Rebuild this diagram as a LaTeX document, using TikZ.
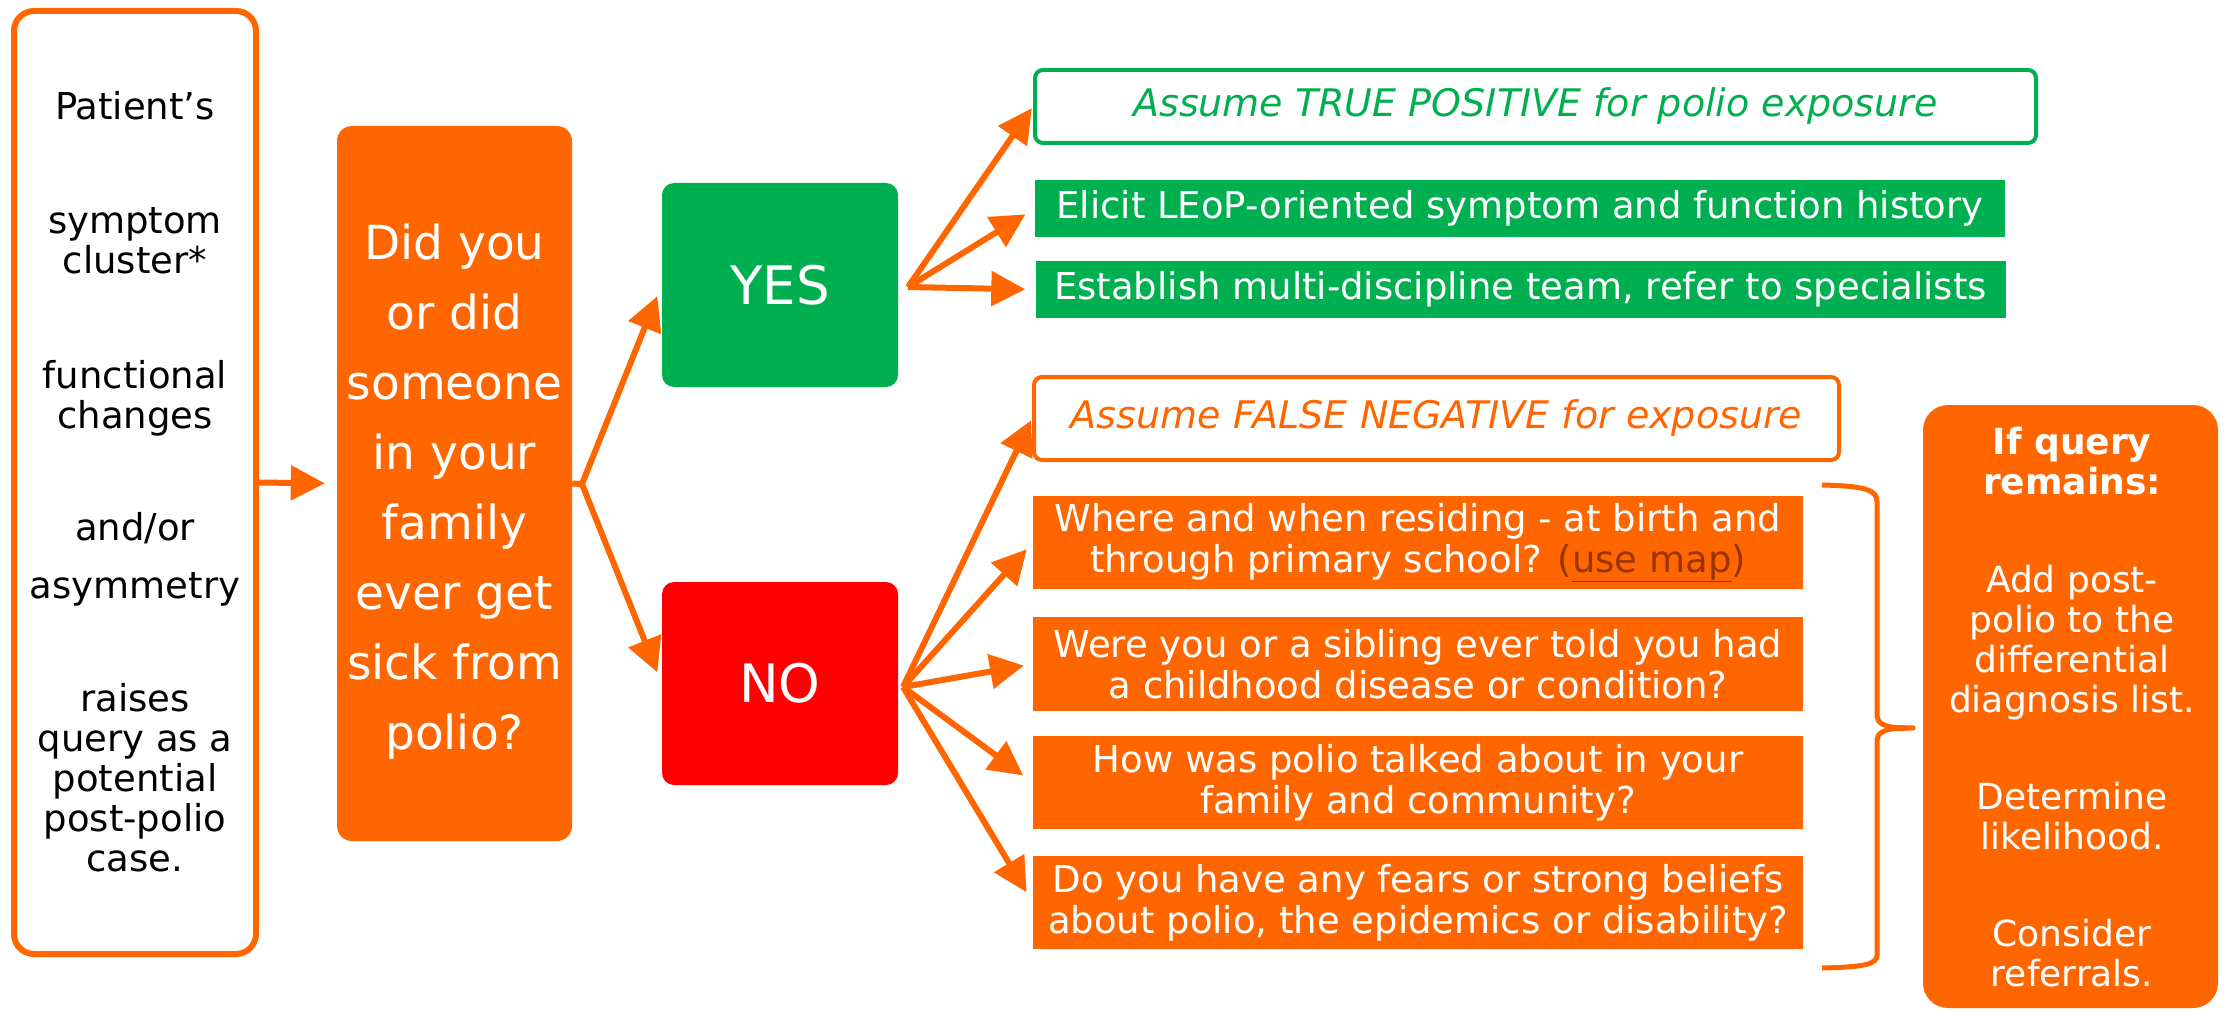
\documentclass[tikz,border=0pt]{standalone}
\usepackage{fontspec}
\setmainfont{DejaVu Sans}
\usetikzlibrary{arrows.meta}
\definecolor{org}{RGB}{255,102,0}
\definecolor{grn}{RGB}{0,176,80}
\definecolor{rd}{RGB}{255,0,0}
\definecolor{lnk}{RGB}{153,51,0}
\newcommand\fs[2]{\fontsize{#1}{#2}\selectfont}
\begin{document}
\begin{tikzpicture}[x=1pt,y=-1pt,
  box/.style={rectangle, inner sep=0pt, align=center},
  wbox/.style={box, text=white},
  arr/.style={draw=org, line width=6pt, -{Triangle[length=34pt,width=34pt]}},
  qtxt/.style={font=\fs{37}{41}}]
\useasboundingbox[fill=white] (0,0) rectangle (2230,1011);

% left box
\node[box, draw=org, line width=6pt, rounded corners=20pt, minimum width=242pt, minimum height=943pt] (left) at (135,482.5) {};
\node[box, font=\fs{37}{40}] (lefttext) at (135,481.5)
 {Patient’s\\[74pt]symptom\\cluster*\\[75pt]functional\\changes\\[72pt]and/or\\[18pt]asymmetry\\[73pt]raises\\query as a\\potential\\post-polio\\case.};

% question box
\node[box, fill=org, rounded corners=15pt, minimum width=235pt, minimum height=715pt] (q) at (454.5,483.5) {};
\node[wbox, font=\fs{47}{70}] (qtext) at (454.5,492)
 {Did you\\or did\\someone\\in your\\family\\ever get\\sick from\\polio?};

% yes / no
\node[wbox, fill=grn, rounded corners=12pt, minimum width=236pt, minimum height=204pt, font=\fs{53}{60}] (yes) at (780,285) {YES};
\node[wbox, fill=rd, rounded corners=12pt, minimum width=236pt, minimum height=203pt, font=\fs{53}{60}] (no) at (780,683.5) {NO};

% yes branch
\node[box, draw=grn, line width=4pt, rounded corners=8pt, minimum width=1001pt, minimum height=73pt, text=grn, font=\fs{38}{42}\itshape] (tp) at (1535.5,106.5) {Assume TRUE POSITIVE for polio exposure};
\node[wbox, fill=grn, minimum width=970pt, minimum height=57pt, qtxt] (el) at (1520,208.5) {Elicit LEoP-oriented symptom and function history};
\node[wbox, fill=grn, minimum width=970pt, minimum height=57pt, qtxt] (es) at (1520.5,289.5) {Establish multi-discipline team, refer to specialists};

% no branch
\node[box, draw=org, line width=4pt, rounded corners=8pt, minimum width=805pt, minimum height=83pt, text=org, font=\fs{38}{42}\itshape] (fn) at (1436.5,418.5) {Assume FALSE NEGATIVE for exposure};
\node[wbox, fill=org, minimum width=770pt, minimum height=93pt, qtxt] (b1) at (1418,542.5) {Where and when residing - at birth and\\through primary school? \textcolor{lnk}{(\underline{use map})}};
\node[wbox, fill=org, minimum width=770pt, minimum height=94pt, qtxt] (b2) at (1418,664) {Were you or a sibling ever told you had\\a childhood disease or condition?};
\node[wbox, fill=org, minimum width=770pt, minimum height=93pt, qtxt] (b3) at (1418,782.5) {How was polio talked about in your\\family and community?};
\node[wbox, fill=org, minimum width=770pt, minimum height=93pt, qtxt] (b4) at (1418,902.5) {Do you have any fears or strong beliefs\\about polio, the epidemics or disability?};

% right box
\node[box, fill=org, rounded corners=25pt, minimum width=295pt, minimum height=603pt] (rt) at (2070.5,706.5) {};
\node[wbox, font=\fs{36}{40}] (rttext) at (2072,707)
 {\textbf{If query}\\\textbf{remains:}\\[58pt]Add post-\\polio to the\\differential\\diagnosis list.\\[57pt]Determine\\likelihood.\\[57pt]Consider\\referrals.};

% connectors
\coordinate (qo) at (582,484);
\coordinate (yo) at (908,287);
\coordinate (noo) at (903,687);
\draw[arr, shorten >=12pt] (left.east) -- (q.west);
\draw[draw=org, line width=6pt] (q.east) -- (qo);
\draw[arr, shorten >=12pt] (qo) -- (yes.west);
\draw[arr, shorten >=12pt] (qo) -- (no.west);
\draw[arr, shorten >=2pt] (yo) -- (tp.west);
\draw[arr, shorten >=11pt] (yo) -- (el.west);
\draw[arr, shorten >=10pt] (yo) -- (es.west);
\draw[arr, shorten >=2pt] (noo) -- (fn.west);
\draw[arr, shorten >=9pt] (noo) -- (b1.west);
\draw[arr, shorten >=9pt] (noo) -- (b2.west);
\draw[arr, shorten >=12pt] (noo) -- (b3.west);
\draw[arr, shorten >=12pt] (noo) -- (b4.west);

% brace
\coordinate (brtop) at (1822,485);
\coordinate (brbot) at (1822,968);
\coordinate (brtip) at (1913,728);
\draw[org, line width=5pt, line join=round]
  (brtop) .. controls (1866,486) and (1877,490) .. (1877,502)
  -- (1877,716) .. controls (1877,723) and (1885,727) .. (1897,727.5)
  -- (brtip)
  -- (1897,728.5) .. controls (1885,729) and (1877,733) .. (1877,740)
  -- (1877,955) .. controls (1877,964) and (1866,967) .. (brbot);
\end{tikzpicture}
\end{document}
